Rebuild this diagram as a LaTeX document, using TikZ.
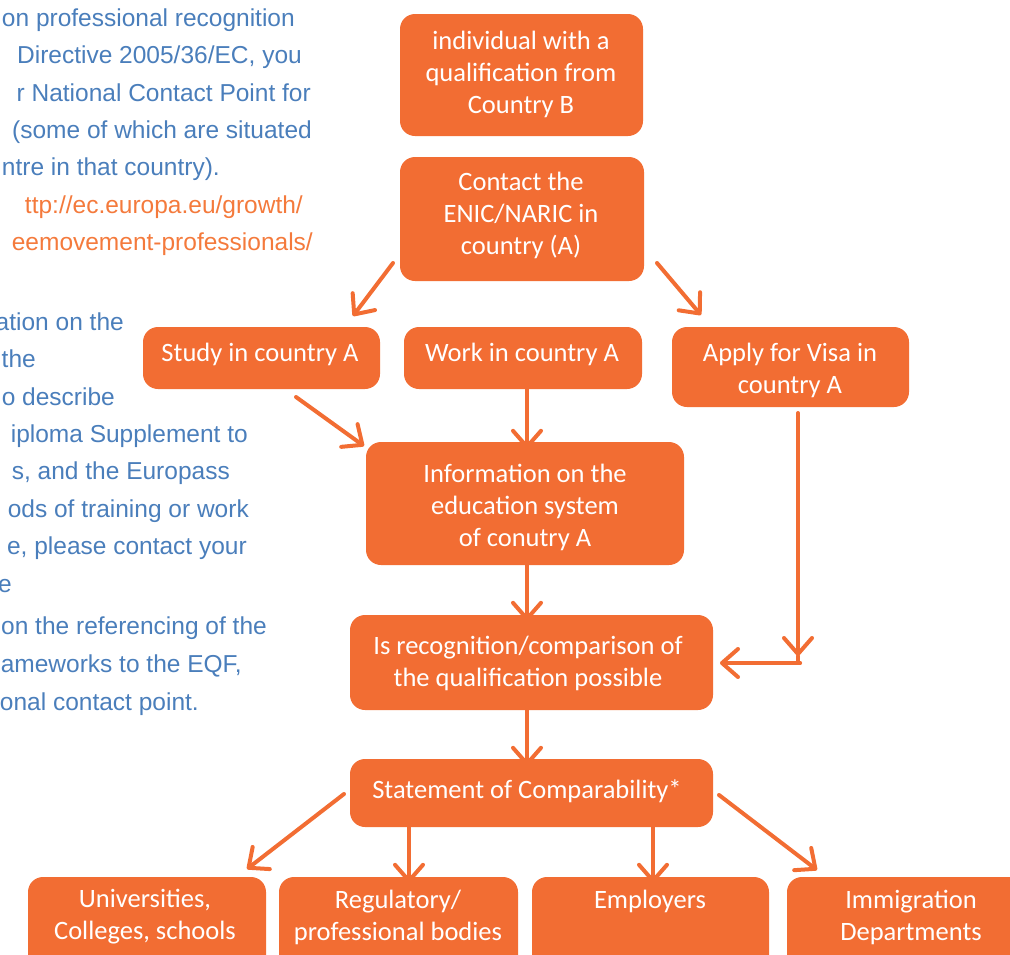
\documentclass[tikz,border=0pt]{standalone}
\usepackage{fontspec}
\setmainfont{Carlito}
\newfontfamily\leftfont{Liberation Sans}
\usetikzlibrary{arrows.meta}
\definecolor{boxor}{HTML}{F26D33}
\definecolor{linkor}{HTML}{F47A3C}
\definecolor{txtblue}{HTML}{4A7EBB}
\tikzset{
  box/.style={fill=boxor, draw=none, rounded corners=15pt, inner sep=0pt},
  boxtext/.style={text=white, align=center, font=\fontsize{26.5}{32}\selectfont, inner sep=0pt},
  lefttext/.style={text=txtblue, anchor=mid east, inner sep=0pt, font=\leftfont\fontsize{24.5}{28}\selectfont},
  linktext/.style={lefttext, text=linkor},
  arr/.style={draw=boxor, line width=4pt, line cap=round, line join=round,
    -{Straight Barb[length=16pt,width=28pt,line width=4pt,round]}}
}
\begin{document}
\begin{tikzpicture}[x=1pt,y=-1pt]
\useasboundingbox (0,0) rectangle (1010,954);
\clip (0,0) rectangle (1010,954);
% left text
\node[lefttext] (l1) at (295,24) {on professional recognition};
\node[lefttext] (l2) at (302,61) {Directive 2005/36/EC, you};
\node[lefttext] (l3) at (311,99) {r National Contact Point for};
\node[lefttext] (l4) at (312,136) {(some of which are situated};
\node[lefttext] (l5) at (220,173) {ntre in that country).};
\node[linktext] (l6) at (303,211) {ttp://ec.europa.eu/growth/};
\node[linktext] (l7) at (313,248) {eemovement-professionals/};
\node[lefttext] (l8) at (124,328) {ation on the};
\node[lefttext] (l9) at (36,365) {the};
\node[lefttext] (l10) at (115,403) {o describe};
\node[lefttext] (l11) at (248,440) {iploma Supplement to};
\node[lefttext] (l12) at (230,477) {s, and the Europass};
\node[lefttext] (l13) at (249,515) {ods of training or work};
\node[lefttext] (l14) at (247,552) {e, please contact your};
\node[lefttext] (l15) at (12,590) {e};
\node[lefttext] (l16) at (267,632) {on the referencing of the};
\node[lefttext] (l17) at (242,670) {ameworks to the EQF,};
\node[lefttext] (l18) at (199,708) {onal contact point.};
% boxes
\node[box, minimum width=243pt, minimum height=122pt] (b1) at (521.5,75) {};
\node[box, minimum width=244pt, minimum height=124pt] (b2) at (522,219) {};
\node[box, minimum width=237pt, minimum height=62pt] (study) at (261.5,358) {};
\node[box, minimum width=238pt, minimum height=62pt] (work) at (523,358) {};
\node[box, minimum width=237pt, minimum height=80pt] (visa) at (790.5,367) {};
\node[box, minimum width=318pt, minimum height=123pt] (info) at (525,503.5) {};
\node[box, minimum width=363pt, minimum height=95pt] (recog) at (531.5,662.5) {};
\node[box, minimum width=363pt, minimum height=68pt] (stmt) at (531.5,793) {};
\node[box, minimum width=238pt, minimum height=103pt] (univ) at (147,928.5) {};
\node[box, minimum width=239pt, minimum height=103pt] (reg) at (398.5,928.5) {};
\node[box, minimum width=237pt, minimum height=103pt] (emp) at (650.5,928.5) {};
\node[box, minimum width=238pt, minimum height=103pt] (imm) at (906,928.5) {};
% box texts
\node[boxtext] (b1t) at (521,74) {individual with a\\qualification from\\Country B};
\node[boxtext] (b2t) at (521,215) {Contact the\\ENIC/NARIC in\\country (A)};
\node[boxtext] (studyt) at (260,354) {Study in country A};
\node[boxtext] (workt) at (522,354) {Work in country A};
\node[boxtext] (visat) at (790,370) {Apply for Visa in\\country A};
\node[boxtext] (infot) at (525,507) {Information on the\\education system\\of conutry A};
\node[boxtext] (recogt) at (528,663) {Is recognition/comparison of\\the qualification possible};
\node[boxtext] (stmtt) at (527,791) {Statement of Comparability*};
\node[boxtext] (univt) at (145,917) {Universities,\\Colleges, schools};
\node[boxtext] (regt) at (398,917) {Regulatory/\\professional bodies};
\node[boxtext] (empt) at (650,901) {Employers};
\node[boxtext] (immt) at (911,917) {Immigration\\Departments};
% connector end points
\coordinate (a1s) at (393,263); \coordinate (a1e) at (353,316);
\coordinate (a2s) at (657,263); \coordinate (a2e) at (701,315);
\coordinate (a3s) at (296,397); \coordinate (a3e) at (364,446);
\coordinate (vtop) at (798,413); \coordinate (vbot) at (798,656);
\coordinate (hr) at (800,663); \coordinate (hl) at (720,663);
\coordinate (a4s) at (344,794); \coordinate (a4e) at (247,869);
\coordinate (a5s) at (719,795); \coordinate (a5e) at (817,870);
% connectors
\draw[arr] (a1s) -- (a1e);
\draw[arr] (a2s) -- (a2e);
\draw[arr] (a3s) -- (a3e);
\draw[arr] ([xshift=4pt,yshift=6pt]work.south) -- ([xshift=2pt,yshift=-7pt]info.north);
\draw[arr] ([xshift=2pt,yshift=5pt]info.south) -- ([xshift=-4.5pt,yshift=-6pt]recog.north);
\draw[arr] ([xshift=-4.5pt,yshift=5pt]recog.south) -- ([xshift=-4.5pt,yshift=-7pt]stmt.north);
\draw[arr] (vtop) -- (vbot);
\draw[draw=boxor, line width=4pt, line cap=round] (vbot) -- (798,663) -- (hr);
\draw[arr] (hr) -- (hl);
\draw[arr] (a4s) -- (a4e);
\draw[arr] ([xshift=-122.5pt,yshift=4pt]stmt.south) -- ([xshift=10.5pt,yshift=-6pt]reg.north);
\draw[arr] ([xshift=121.5pt,yshift=4pt]stmt.south) -- ([xshift=2.5pt,yshift=-6pt]emp.north);
\draw[arr] (a5s) -- (a5e);
\end{tikzpicture}
\end{document}
